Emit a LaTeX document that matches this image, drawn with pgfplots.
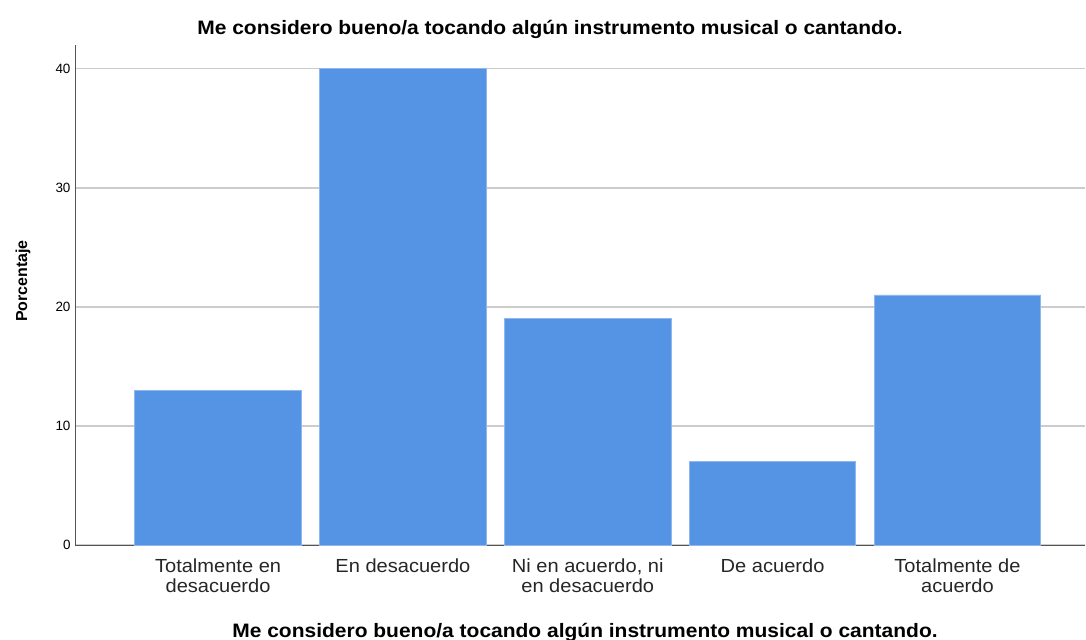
\documentclass[border=0pt]{standalone}
\usepackage{pgfplots}
\pgfplotsset{compat=1.18}
\usepackage{fontspec}
\setmainfont{Liberation Sans}
\definecolor{barblue}{HTML}{5594E4}
\definecolor{baredge}{HTML}{8DB7EE}
\definecolor{gridgray}{HTML}{CCCCCC}
\definecolor{axisgray}{HTML}{555555}
\begin{document}
\begin{tikzpicture}
\useasboundingbox (0,0) rectangle (1086bp,640bp);
\begin{axis}[
  at={(75bp,95bp)}, anchor=south west,
  scale only axis, width=1010bp, height=500bp,
  xmin=-0.774, xmax=4.69, ymin=0, ymax=42.0,
  axis x line*=bottom, axis y line*=left,
  axis line style={axisgray, line width=0.9pt, -},
  ytick={0,10,20,30,40},
  ymajorgrids, grid style={gridgray, line width=1.3pt},
  major tick length=0pt,
  xtick={0,1,2,3,4},
  xticklabels={{Totalmente en\\desacuerdo},{En desacuerdo},{Ni en acuerdo, ni\\en desacuerdo},{De acuerdo},{Totalmente de\\acuerdo}},
  xticklabel style={align=center, font=\fontsize{19}{20}\selectfont, xscale=1.06, text=black!85, yshift=-10bp},
  yticklabel style={font=\fontsize{13.5}{14}\selectfont, xshift=-1bp},
  /pgf/number format/assume math mode=true,
  ybar, bar width=0.9,
  clip=false,
]
\addplot[fill=barblue, draw=baredge, line width=0.8pt] coordinates {(0,13) (1,40) (2,19) (3,7) (4,21)};
\end{axis}
\node[font=\bfseries\fontsize{19.5}{20}\selectfont, xscale=1.08] at (550bp,611bp) {Me considero bueno/a tocando algún instrumento musical o cantando.};
\node[font=\bfseries\fontsize{19.5}{20}\selectfont, xscale=1.08] at (585bp,8bp) {Me considero bueno/a tocando algún instrumento musical o cantando.};
\node[font=\bfseries\fontsize{16}{18}\selectfont, rotate=90] at (23bp,359bp) {Porcentaje};
\end{tikzpicture}
\end{document}
